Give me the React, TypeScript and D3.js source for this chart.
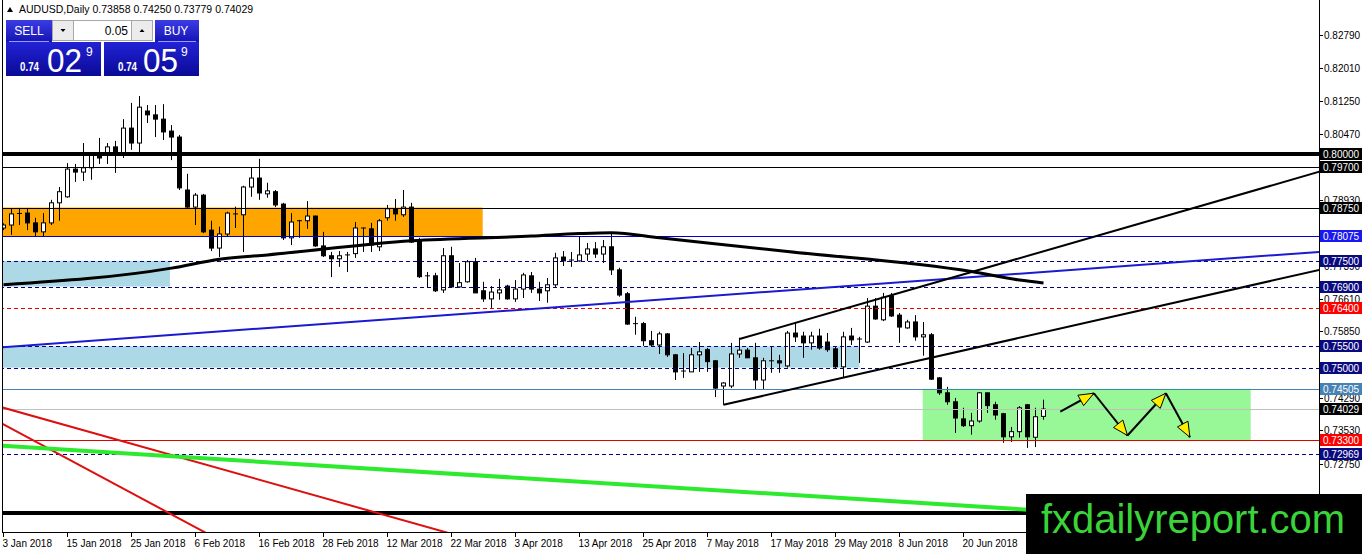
import React from "react"
import * as d3 from "d3"

// AUDUSD daily candles, one per trading day from 3 Jan 2018
const openP = [
  0.7827, 0.7834, 0.786, 0.7862, 0.7839, 0.7818, 0.7839, 0.7886, 0.79, 0.7965,
  0.7958, 0.7968, 0.7996, 0.8003, 0.8017, 0.8003, 0.8061, 0.8026, 0.8101, 0.8092,
  0.8082, 0.8054, 0.804, 0.7916, 0.7876, 0.7904, 0.7822, 0.778, 0.7813, 0.7858,
  0.7858, 0.7923, 0.7944, 0.7907, 0.7912, 0.7883, 0.7804, 0.7841, 0.7844, 0.7855,
  0.7785, 0.7762, 0.7755, 0.7764, 0.7767, 0.7825, 0.7825, 0.7783, 0.7851, 0.7872,
  0.7858, 0.7876, 0.7799, 0.7715, 0.7715, 0.7682, 0.7762, 0.7689, 0.7701, 0.7748,
  0.768, 0.7661, 0.7675, 0.7691, 0.7661, 0.7684, 0.7715, 0.7684, 0.768, 0.7694,
  0.7759, 0.7752, 0.775, 0.7766, 0.7778, 0.7766, 0.7783, 0.7729, 0.7673, 0.7603,
  0.7603, 0.7563, 0.7553, 0.7579, 0.753, 0.7492, 0.749, 0.753, 0.7542, 0.7516,
  0.7457, 0.7457, 0.7532, 0.7541, 0.7523, 0.7471, 0.7514, 0.7516, 0.7504, 0.7581,
  0.7574, 0.7558, 0.7574, 0.756, 0.7544, 0.7502, 0.7574, 0.7567, 0.756, 0.7644,
  0.7612, 0.7668, 0.7623, 0.7593, 0.7607, 0.7572, 0.7577, 0.7476, 0.7441, 0.742,
  0.738, 0.7364, 0.7375, 0.7441, 0.7413, 0.7392, 0.7338, 0.735, 0.7413, 0.7337,
  0.73858,
]
const highP = [
  0.7838, 0.7872, 0.7874, 0.7874, 0.7851, 0.7862, 0.7893, 0.7923, 0.7979, 0.7977,
  0.8026, 0.8005, 0.8038, 0.8026, 0.8031, 0.8082, 0.812, 0.8136, 0.8115, 0.8115,
  0.8117, 0.8068, 0.8045, 0.7954, 0.7909, 0.7907, 0.7844, 0.783, 0.7865, 0.7877,
  0.7926, 0.7968, 0.7989, 0.7933, 0.7916, 0.7886, 0.7862, 0.7846, 0.789, 0.7856,
  0.7818, 0.7771, 0.7773, 0.7771, 0.7841, 0.7828, 0.7839, 0.7848, 0.7881, 0.7895,
  0.7916, 0.7886, 0.7804, 0.7724, 0.7722, 0.778, 0.7783, 0.7745, 0.7752, 0.7757,
  0.7701, 0.7691, 0.7708, 0.7694, 0.7705, 0.7722, 0.7724, 0.7701, 0.771, 0.7769,
  0.7773, 0.7771, 0.7806, 0.7792, 0.7794, 0.7799, 0.7816, 0.7734, 0.7677, 0.7619,
  0.7607, 0.7586, 0.7584, 0.7581, 0.7532, 0.7534, 0.7546, 0.756, 0.7546, 0.7518,
  0.7466, 0.7558, 0.757, 0.7546, 0.7558, 0.7523, 0.7549, 0.753, 0.7586, 0.7605,
  0.7584, 0.7584, 0.7591, 0.7581, 0.7549, 0.7584, 0.7593, 0.7572, 0.7663, 0.7663,
  0.7675, 0.7675, 0.7628, 0.7612, 0.7623, 0.7607, 0.7581, 0.7478, 0.7455, 0.7429,
  0.7406, 0.7394, 0.7443, 0.7441, 0.742, 0.7394, 0.7361, 0.741, 0.7415, 0.7406,
  0.7425,
]
const lowP = [
  0.7822, 0.7811, 0.7834, 0.7822, 0.7806, 0.7806, 0.7834, 0.7844, 0.7898, 0.7935,
  0.7937, 0.794, 0.7977, 0.7977, 0.7956, 0.7991, 0.801, 0.8005, 0.8073, 0.804,
  0.8033, 0.7986, 0.7916, 0.7874, 0.7834, 0.7815, 0.7773, 0.7759, 0.7808, 0.7827,
  0.7771, 0.79, 0.7893, 0.7898, 0.7876, 0.7799, 0.7787, 0.7804, 0.7825, 0.7783,
  0.7759, 0.7712, 0.7736, 0.7724, 0.7757, 0.7771, 0.7771, 0.7773, 0.7844, 0.7844,
  0.7853, 0.7792, 0.771, 0.7687, 0.7677, 0.7675, 0.7687, 0.7687, 0.7699, 0.7675,
  0.7654, 0.764, 0.7659, 0.7659, 0.7654, 0.7663, 0.7675, 0.7656, 0.7652, 0.7689,
  0.7738, 0.7736, 0.7748, 0.775, 0.7757, 0.7745, 0.7717, 0.7666, 0.76, 0.7577,
  0.7551, 0.7549, 0.7532, 0.7525, 0.7471, 0.7476, 0.749, 0.749, 0.749, 0.7431,
  0.7413, 0.7452, 0.7523, 0.7523, 0.7448, 0.7448, 0.7488, 0.7488, 0.75, 0.756,
  0.7523, 0.7542, 0.7542, 0.7537, 0.7497, 0.7478, 0.7553, 0.7511, 0.7558, 0.7612,
  0.7609, 0.7619, 0.7558, 0.7591, 0.7563, 0.7528, 0.7471, 0.7436, 0.7413, 0.7347,
  0.7361, 0.7343, 0.7371, 0.7394, 0.7378, 0.7324, 0.7326, 0.7336, 0.7312, 0.7314,
  0.73779,
]
const closeP = [
  0.7834, 0.786, 0.7861, 0.7839, 0.7818, 0.7839, 0.7886, 0.7912, 0.7965, 0.7958,
  0.7968, 0.7998, 0.7991, 0.8017, 0.8003, 0.8061, 0.8026, 0.811, 0.8092, 0.8082,
  0.8052, 0.804, 0.7921, 0.7876, 0.7904, 0.7818, 0.778, 0.7813, 0.7862, 0.786,
  0.7923, 0.7944, 0.7909, 0.7914, 0.7881, 0.7804, 0.7841, 0.7844, 0.7855, 0.7785,
  0.7762, 0.7755, 0.7762, 0.7764, 0.7827, 0.7827, 0.7787, 0.7844, 0.7872, 0.786,
  0.7876, 0.7794, 0.7713, 0.7715, 0.768, 0.7762, 0.7689, 0.7699, 0.7748, 0.7675,
  0.7661, 0.7677, 0.7682, 0.7661, 0.7684, 0.7717, 0.7684, 0.7675, 0.7694, 0.7757,
  0.775, 0.7752, 0.7764, 0.7778, 0.7766, 0.7783, 0.7729, 0.767, 0.7602, 0.7603,
  0.7563, 0.7553, 0.7579, 0.753, 0.749, 0.7492, 0.753, 0.7537, 0.7514, 0.7452,
  0.7464, 0.7532, 0.7541, 0.7523, 0.7471, 0.7516, 0.7516, 0.7511, 0.7581, 0.7572,
  0.7558, 0.7574, 0.7546, 0.7542, 0.7502, 0.7572, 0.7565, 0.7567, 0.7644, 0.7614,
  0.7665, 0.7621, 0.7595, 0.7607, 0.7572, 0.7577, 0.7473, 0.7441, 0.742, 0.7382,
  0.7364, 0.7375, 0.7441, 0.7411, 0.7389, 0.7338, 0.735, 0.7406, 0.7338, 0.7385,
  0.74029,
]

// long moving average (bar, price)
const maBars = [0, 21, 27, 33, 51, 66, 72, 76, 82, 98, 121, 127, 130]
const maVals = [0.7694, 0.7733, 0.7754, 0.7764, 0.7797, 0.7808, 0.7814, 0.7816, 0.7804, 0.7772, 0.7725, 0.7705, 0.7698]

const dateLabels = [
  "3 Jan 2018", "15 Jan 2018", "25 Jan 2018", "6 Feb 2018", "16 Feb 2018", "28 Feb 2018",
  "12 Mar 2018", "22 Mar 2018", "3 Apr 2018", "13 Apr 2018", "25 Apr 2018", "7 May 2018",
  "17 May 2018", "29 May 2018", "8 Jun 2018", "20 Jun 2018",
]
const dateLabelBars = [0, 8, 16, 24, 32, 40, 48, 56, 64, 72, 80, 88, 96, 104, 112, 120]

// visible grid prices (the ones hidden behind level labels are left out)
const priceTicks = [
  0.8279, 0.8201, 0.8125, 0.8047, 0.7893, 0.7739, 0.7661, 0.7585,
  0.7429, 0.7353, 0.7275,
]

// horizontal levels and what kind of line each is
const levels = [0.8, 0.797, 0.7875, 0.78075, 0.775, 0.769, 0.764, 0.755, 0.75, 0.74505, 0.74029, 0.733, 0.72969, 0.716]
const levelKinds = ["heavy", "thin", "thin", "blue", "dash", "dash", "redDash", "dash", "dash", "steel", "bid", "red", "dash", "heavy"]
// the bottom level's price label sits under the watermark, so it is not drawn
const levelLabelShown = [true, true, true, true, true, true, true, true, true, true, true, true, true, false]

// shaded zones: from bar, to bar, top price, bottom price
const zoneFrom = [-5, -5, -5, 114.9]
const zoneTo = [59.9, 20.8, 107, 155.9]
const zoneTop = [0.7875, 0.775, 0.755, 0.74505]
const zoneBottom = [0.78075, 0.769, 0.75, 0.733]
const zoneKinds = ["orange", "blue", "blue", "green"]

// trend lines: two anchors [bar, price]
const blueLine = [[0, 0.7548], [164.5, 0.7771]]
const channelLow = [[90, 0.7413], [164.5, 0.7729]]
const channelHigh = [[92, 0.7567], [164.5, 0.7959]]
const redLineA = [[0, 0.7406], [55, 0.7116]]
const redLineB = [[0, 0.7367], [25.2, 0.7114]]
const greenLine = [[0, 0.7317], [128.3, 0.7167]]

// projected zigzag in the green box
const zigBars = [132.1, 136.3, 140.5, 145.3, 148.3]
const zigVals = [0.7397, 0.744, 0.7341, 0.744, 0.7337]

const LEVEL_STYLE: Record<string, { stroke: string; width: number; dash?: string; label: string }> = {
  heavy: { stroke: "#000", width: 4, label: "#000" },
  thin: { stroke: "#000", width: 1, label: "#000" },
  blue: { stroke: "#0000d0", width: 1, label: "#1818f0" },
  dash: { stroke: "#000080", width: 1, dash: "4,3", label: "#0a0a80" },
  redDash: { stroke: "#e00000", width: 1, dash: "4,3", label: "#ff0000" },
  steel: { stroke: "#4682b4", width: 1, label: "#4682b4" },
  bid: { stroke: "#c0c0c0", width: 1, label: "#000" },
  red: { stroke: "#e00000", width: 1, label: "#ff0000" },
}
const ZONE_FILL: Record<string, string> = {
  orange: "#ffa500",
  blue: "#add8e6",
  green: "#98f898",
}

const FONT = "'Liberation Sans', Arial, sans-serif"
const PLOT_R = 1319
const PLOT_B = 533

export default function App() {
  const x = d3.scaleLinear().domain([0, 130]).range([3.5, 1043.5])
  const y = d3.scaleLinear().domain([0.71127, 0.8361]).range([PLOT_B, 0])

  const ray = (pts: number[][], fromBar: number, toBar: number) => {
    const [[b1, p1], [b2, p2]] = pts
    const slope = (p2 - p1) / (b2 - b1)
    const at = (b: number) => p1 + slope * (b - b1)
    return { x1: x(fromBar), y1: y(at(fromBar)), x2: x(toBar), y2: y(at(toBar)) }
  }

  const maPath = d3
    .line<number>()
    .x((_, i) => x(maBars[i]))
    .y((d) => y(d))
    .curve(d3.curveMonotoneX)(maVals)

  const arrowHead = (x1: number, y1: number, x2: number, y2: number) => {
    const a = Math.atan2(y2 - y1, x2 - x1)
    const len = 15
    const hw = 6
    const bx = x2 - len * Math.cos(a)
    const by = y2 - len * Math.sin(a)
    const nx = -Math.sin(a) * hw
    const ny = Math.cos(a) * hw
    return `M${x2},${y2}L${bx + nx},${by + ny}L${bx - nx},${by - ny}Z`
  }

  const lines: { pts: number[][]; from: number; to: number; color: string; w: number }[] = [
    { pts: blueLine, from: -1, to: 170, color: "#1a1ad0", w: 2 },
    { pts: channelLow, from: 90, to: 170, color: "#000", w: 2 },
    { pts: channelHigh, from: 92, to: 170, color: "#000", w: 2 },
    { pts: redLineA, from: -1, to: 70, color: "#dd1010", w: 2 },
    { pts: redLineB, from: -1, to: 40, color: "#dd1010", w: 2 },
    { pts: greenLine, from: -1, to: 170, color: "#2eea2e", w: 4 },
  ]

  return (
    <svg
      width={1362}
      height={554}
      style={{ position: "absolute", left: 0, top: 0, background: "#fff" }}
      fontFamily={FONT}
    >
      <defs>
        <clipPath id="plot">
          <rect x={3} y={0} width={PLOT_R - 3} height={PLOT_B} />
        </clipPath>
        <linearGradient id="btn" x1="0" y1="0" x2="0" y2="1">
          <stop offset="0" stopColor="#3c3ce6" />
          <stop offset="1" stopColor="#1414b4" />
        </linearGradient>
        <linearGradient id="big" x1="0" y1="0" x2="0" y2="1">
          <stop offset="0" stopColor="#2222d6" />
          <stop offset="1" stopColor="#0a0a96" />
        </linearGradient>
      </defs>
      <rect x={0} y={0} width={1362} height={554} fill="#fff" />

      <g clipPath="url(#plot)">
        {zoneKinds.map((k, i) => (
          <rect
            key={"z" + i}
            x={x(zoneFrom[i])}
            y={y(zoneTop[i])}
            width={x(zoneTo[i]) - x(zoneFrom[i])}
            height={y(zoneBottom[i]) - y(zoneTop[i])}
            fill={ZONE_FILL[k]}
          />
        ))}

        {closeP.map((c, i) => {
          const o = openP[i]
          const cx = x(i)
          const top = y(Math.max(o, c))
          const bot = y(Math.min(o, c))
          const bull = c > o
          return (
            <g key={"c" + i}>
              <line x1={cx} x2={cx} y1={y(highP[i])} y2={y(lowP[i])} stroke="#000" />
              {bot - top < 1.5 ? (
                <line x1={cx - 2.5} x2={cx + 2.5} y1={top} y2={top} stroke="#000" />
              ) : (
                <rect
                  x={cx - 2}
                  y={top}
                  width={4}
                  height={bot - top}
                  fill={bull ? "#fff" : "#000"}
                  stroke="#000"
                />
              )}
            </g>
          )
        })}

        {levels.map((p, i) => {
          const s = LEVEL_STYLE[levelKinds[i]]
          const yy = Math.round(y(p)) + (s.width % 2 ? 0.5 : 0)
          return (
            <line
              key={"l" + i}
              x1={0}
              x2={PLOT_R}
              y1={yy}
              y2={yy}
              stroke={s.stroke}
              strokeWidth={s.width}
              strokeDasharray={s.dash}
            />
          )
        })}

        {lines.map((l, i) => {
          const r = ray(l.pts, l.from, l.to)
          return <line key={"t" + i} {...r} stroke={l.color} strokeWidth={l.w} />
        })}

        <path d={maPath || ""} fill="none" stroke="#000" strokeWidth={3} />

        {zigVals.slice(1).map((v, i) => {
          const x1 = x(zigBars[i])
          const y1 = y(zigVals[i])
          const x2 = x(zigBars[i + 1])
          const y2 = y(v)
          return (
            <g key={"a" + i}>
              <line x1={x1} y1={y1} x2={x2} y2={y2} stroke="#000" strokeWidth={2} />
              <path d={arrowHead(x1, y1, x2, y2)} fill="#ffee00" stroke="#000" strokeWidth={1} />
            </g>
          )
        })}
      </g>

      {/* frame */}
      <line x1={2.5} x2={2.5} y1={0} y2={PLOT_B} stroke="#000" />
      <line x1={PLOT_R + 0.5} x2={PLOT_R + 0.5} y1={0} y2={PLOT_B} stroke="#000" />
      <line x1={2} x2={PLOT_R + 1} y1={PLOT_B - 0.5} y2={PLOT_B - 0.5} stroke="#000" />

      {/* price axis */}
      {priceTicks.map((p, i) => {
        const yy = Math.round(y(p)) + 0.5
        return (
          <g key={"pt" + i}>
            <line x1={PLOT_R} x2={PLOT_R + 4} y1={yy} y2={yy} stroke="#000" />
            <text x={PLOT_R + 5} y={yy + 3.5} fontSize={10} fill="#000">
              {p.toFixed(5)}
            </text>
          </g>
        )
      })}
      {levels.map((p, i) => {
        if (!levelLabelShown[i]) return null
        const s = LEVEL_STYLE[levelKinds[i]]
        const yy = Math.round(y(p))
        return (
          <g key={"lb" + i}>
            <rect x={PLOT_R + 1} y={yy - 6} width={42} height={12} fill={s.label} />
            <text x={PLOT_R + 4} y={yy + 4} fontSize={10} fill="#fff">
              {p.toFixed(5)}
            </text>
          </g>
        )
      })}

      {/* time axis */}
      {dateLabels.map((d, i) => {
        const tx = Math.round(x(dateLabelBars[i])) - 0.5
        return (
          <g key={"d" + i}>
            <line x1={tx} x2={tx} y1={PLOT_B} y2={PLOT_B + 4} stroke="#000" />
            <text x={tx - 1} y={547} fontSize={10} fill="#000">
              {d}
            </text>
          </g>
        )
      })}

      {/* watermark */}
      <rect x={1026} y={494} width={336} height={60} fill="#000" />
      <text x={1041} y={533} fontSize={40} fill="#3ad43a" textLength={304} lengthAdjust="spacingAndGlyphs">
        fxdailyreport.com
      </text>

      {/* header */}
      <path d="M7,12 L10,7 L13,12 Z" fill="#000" />
      <text x={19} y={13} fontSize={10.5} fill="#000">
        AUDUSD,Daily  0.73858 0.74250 0.73779 0.74029
      </text>

      {/* one-click trading panel */}
      <rect x={6} y={20} width={46} height={22} fill="url(#btn)" />
      <text x={29} y={35} fontSize={12} fill="#fff" textAnchor="middle">SELL</text>
      <line x1={9} x2={49} y1={41.5} y2={41.5} stroke="#9a9aff" />
      <rect x={52.5} y={20.5} width={21} height={20} fill="#ececec" stroke="#a8a8a8" />
      <path d="M60.5,29 L65.5,29 L63,32 Z" fill="#000" />
      <rect x={73.5} y={20.5} width={58} height={20} fill="#fff" stroke="#a8a8a8" />
      <text x={128} y={35} fontSize={12} fill="#000" textAnchor="end">0.05</text>
      <rect x={131.5} y={20.5} width={21} height={20} fill="#ececec" stroke="#a8a8a8" />
      <path d="M139.5,32 L144.5,32 L142,29 Z" fill="#000" />
      <rect x={155} y={20} width={44} height={22} fill="url(#btn)" />
      <text x={176} y={35} fontSize={12} fill="#fff" textAnchor="middle">BUY</text>
      <line x1={158} x2={196} y1={41.5} y2={41.5} stroke="#9a9aff" />

      <rect x={6} y={42} width={95} height={34} fill="url(#big)" />
      <text x={20} y={71} fontSize={13} fontWeight="bold" fill="#fff" textLength={19} lengthAdjust="spacingAndGlyphs">0.74</text>
      <text x={47} y={72} fontSize={34} fill="#fff" textLength={35} lengthAdjust="spacingAndGlyphs">02</text>
      <text x={86} y={56} fontSize={12} fill="#fff">9</text>

      <rect x={104} y={42} width={95} height={34} fill="url(#big)" />
      <text x={118} y={71} fontSize={13} fontWeight="bold" fill="#fff" textLength={19} lengthAdjust="spacingAndGlyphs">0.74</text>
      <text x={143} y={72} fontSize={34} fill="#fff" textLength={35} lengthAdjust="spacingAndGlyphs">05</text>
      <text x={181} y={56} fontSize={12} fill="#fff">9</text>
    </svg>
  )
}
